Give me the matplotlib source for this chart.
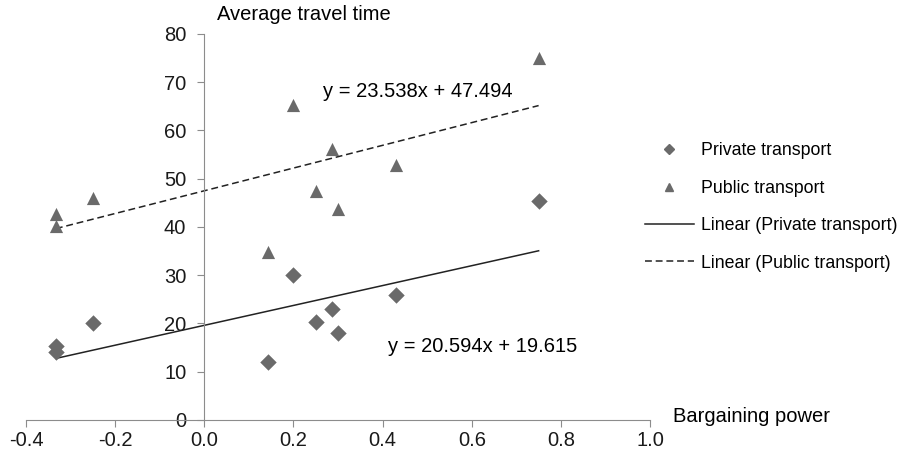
import numpy as np
import matplotlib.pyplot as plt
from matplotlib.lines import Line2D

plt.rcParams['font.family'] = ['Liberation Sans', 'DejaVu Sans']

# private transport
priv_x = [-0.333, -0.333, -0.25, 0.143, 0.2, 0.25, 0.286, 0.3, 0.43, 0.75]
priv_y = [15.3, 14.0, 20.1, 12.1, 30.1, 20.3, 23.1, 18.1, 25.8, 45.3]
# public transport
pub_x = [-0.333, -0.333, -0.25, 0.143, 0.2, 0.25, 0.286, 0.3, 0.43, 0.75]
pub_y = [42.6, 40.2, 46.0, 34.8, 65.2, 47.4, 56.2, 43.8, 52.8, 75.0]
# trendline coefficients (slope, intercept)
priv_fit = (20.594, 19.615)
pub_fit = (23.538, 47.494)

fontsize = 14.5
grey = '#6a6a6a'

fig = plt.figure(figsize=(9.07, 4.58), dpi=100)
ax = fig.add_axes([0.0287, 0.083, 0.688, 0.843])

ax.scatter(priv_x, priv_y, marker='D', s=70, color=grey, zorder=3, linewidths=0)
ax.scatter(pub_x, pub_y, marker='^', s=90, color=grey, zorder=3, linewidths=0)

xs = np.array([min(priv_x), max(priv_x)])
ax.plot(xs, priv_fit[0] * xs + priv_fit[1], color='#222222', lw=1.1)
xs = np.array([min(pub_x), max(pub_x)])
ax.plot(xs, pub_fit[0] * xs + pub_fit[1], color='#222222', lw=1.1, ls=(0, (4.5, 2.5)))

ax.text(0.266, 68.0, 'y = 23.538x + 47.494', fontsize=fontsize, ha='left', va='center')
ax.text(0.412, 15.2, 'y = 20.594x + 19.615', fontsize=fontsize, ha='left', va='center')

ax.set_xlim(-0.4, 1.0)
ax.set_ylim(0, 80)
ax.set_xticks(np.arange(-0.4, 1.01, 0.2))
ax.set_xticklabels(['-0.4', '-0.2', '0.0', '0.2', '0.4', '0.6', '0.8', '1.0'])
ax.set_yticks(np.arange(0, 81, 10))

ax.spines['left'].set_position(('data', 0))
ax.spines['right'].set_visible(False)
ax.spines['top'].set_visible(False)
for s in ['left', 'bottom']:
    ax.spines[s].set_color('#8c8c8c')
ax.tick_params(axis='both', direction='out', length=5, color='#8c8c8c',
               labelsize=fontsize, labelcolor='#1a1a1a')
ax.tick_params(axis='x', pad=3)
ax.tick_params(axis='y', pad=8)
ax.patch.set_alpha(0)

fig.text(217 / 907, 1 - 14 / 458, 'Average travel time', fontsize=fontsize, ha='left', va='center')
fig.text(673 / 907, 1 - 417 / 458, 'Bargaining power', fontsize=fontsize, ha='left', va='center')

handles = [
    Line2D([], [], marker='D', ls='none', color=grey, markersize=5),
    Line2D([], [], marker='^', ls='none', color=grey, markersize=6),
    Line2D([], [], color='#222222', lw=1.1),
    Line2D([], [], color='#222222', lw=1.1, ls=(0, (4.5, 2.5))),
]
labels = ['Private transport', 'Public transport', 'Linear (Private transport)',
          'Linear (Public transport)']
fig.legend(handles, labels, loc='center left', bbox_to_anchor=(636 / 907, 1 - 207 / 458),
           frameon=False, fontsize=12.8, handlelength=2.75, handletextpad=0.4,
           labelspacing=1.15, borderpad=0)

fig.savefig('out.png', dpi=100)
